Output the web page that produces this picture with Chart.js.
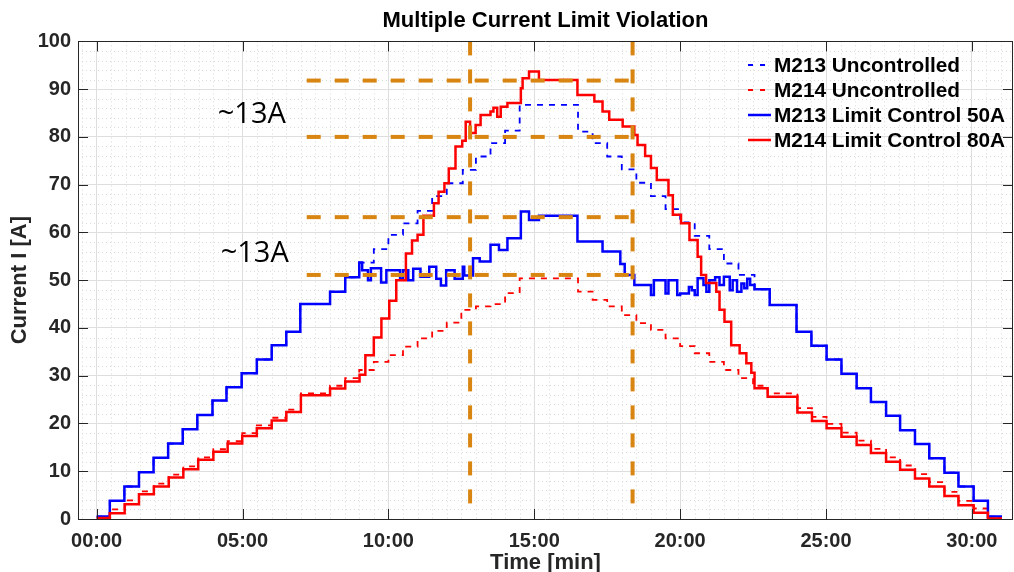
<!DOCTYPE html>
<html>
<head>
<meta charset="utf-8">
<script src="https://cdn.jsdelivr.net/npm/chart.js@4.4.0/dist/chart.umd.min.js"></script>
<style>
  html, body { margin: 0; padding: 0; background: #fff; }
</style>
</head>
<body>
<canvas id="chart" width="1014" height="572"></canvas>
<script>
// time in minutes, current in A
const m213UncT = [0, 0.45, 0.95, 1.45, 1.95, 2.45, 2.95, 3.45, 3.97, 4.45,
  4.97, 5.49, 6.0, 6.5, 6.98, 8.0, 8.52, 9.0, 9.5, 10.0,
  10.5, 11.0, 11.5, 12.0, 12.55, 13.0, 13.5, 14.0, 14.5, 16.5,
  17.0, 17.5, 18.0, 18.5, 19.0, 19.5, 20.0, 20.5, 21.0, 21.5,
  22.0, 22.55, 23.07, 23.99, 24.5, 25.02, 25.53, 26.05, 26.54, 27.06,
  27.54, 28.05, 28.54, 29.06, 29.54, 30.06, 30.55, 31.03];
const m213UncV = [0.5, 3.8, 6.8, 9.8, 12.8, 15.8, 18.8, 21.8, 24.8, 27.6,
  30.5, 33.4, 36.4, 39.2, 45.0, 47.6, 50.6, 53.7, 56.5, 59.5,
  61.9, 64.5, 67.6, 70.3, 73.1, 75.9, 78.7, 81.3, 86.7, 81.1,
  78.7, 75.9, 73.2, 70.4, 67.6, 64.9, 62.1, 59.3, 56.5, 53.5,
  51.1, 48.1, 44.8, 39.2, 36.3, 33.4, 30.4, 27.4, 24.5, 21.6,
  18.6, 15.7, 12.7, 9.7, 6.8, 3.8, 0.5, 0.5];

const m214UncT = [0, 0.45, 0.96, 1.45, 1.96, 2.47, 2.97, 3.48, 4.0, 4.49,
  4.99, 5.49, 6.0, 6.5, 7.0, 8.0, 8.52, 9.0, 9.5, 10.0,
  10.5, 11.0, 11.5, 12.0, 12.5, 13.0, 13.5, 14.0, 14.5, 16.5,
  17.0, 17.5, 18.0, 18.5, 19.0, 19.5, 20.0, 20.5, 21.0, 21.5,
  22.0, 22.5, 23.0, 24.02, 24.52, 25.02, 25.53, 26.05, 26.54, 27.06,
  27.54, 28.05, 28.54, 29.06, 29.54, 30.06, 30.55, 31.03];
const m214UncV = [0.2, 2.0, 3.9, 5.8, 7.4, 9.3, 11.0, 12.9, 14.6, 16.3,
  18.0, 19.6, 21.2, 22.9, 26.3, 27.9, 29.5, 31.2, 32.9, 34.3,
  36.1, 37.8, 39.4, 41.1, 43.8, 44.5, 45.0, 47.3, 50.4, 47.6,
  45.9, 44.5, 42.7, 41.0, 39.6, 37.8, 36.2, 34.7, 32.9, 31.2,
  29.5, 27.9, 26.3, 23.2, 21.4, 19.9, 18.1, 16.4, 14.7, 12.9,
  11.2, 9.4, 7.7, 5.7, 3.8, 2.2, 0.3, 0.3];

const m213LimT = [0, 0.45, 0.95, 1.45, 1.95, 2.45, 2.95, 3.45, 3.97, 4.45,
  4.97, 5.49, 6.0, 6.5, 6.98, 8.0, 8.52, 9.0, 9.1, 9.3,
  9.4, 9.75, 9.93, 10.4, 10.5, 10.68, 10.85, 11.1, 11.4, 11.64,
  11.8, 11.98, 12.27, 12.55, 12.6, 12.9, 13.13, 13.5, 13.79, 14.08,
  14.54, 14.82, 15.16, 16.48, 17.34, 17.95, 18.1, 18.43, 19.0, 19.1,
  19.5, 19.6, 19.9, 20.0, 20.3, 20.4, 20.5, 20.6, 20.8, 20.9,
  21.0, 21.2, 21.35, 21.5, 21.7, 21.8, 21.95, 22.1, 22.2, 22.3,
  22.4, 22.55, 23.07, 23.99, 24.5, 25.02, 25.53, 26.05, 26.54, 27.06,
  27.54, 28.05, 28.54, 29.06, 29.54, 30.06, 30.55, 31.03];
const m213LimV = [0.5, 3.8, 6.8, 9.8, 12.8, 15.8, 18.8, 21.8, 24.8, 27.6,
  30.5, 33.4, 36.4, 39.2, 45.0, 47.6, 50.6, 53.7, 52.1, 50.0,
  52.5, 49.5, 52.1, 50.3, 52.1, 50.0, 52.4, 50.7, 52.8, 50.3,
  48.9, 52.1, 50.3, 52.8, 51.0, 54.6, 53.9, 57.4, 56.3, 58.8,
  64.4, 62.6, 63.5, 58.1, 56.0, 53.4, 51.1, 49.0, 46.9, 50.0,
  47.2, 50.0, 46.9, 47.2, 48.6, 47.9, 46.9, 50.4, 49.0, 47.6,
  50.0, 50.6, 49.0, 50.7, 47.9, 50.0, 47.6, 49.3, 48.3, 50.3,
  49.0, 48.1, 44.8, 39.2, 36.3, 33.4, 30.4, 27.4, 24.5, 21.6,
  18.6, 15.7, 12.7, 9.7, 6.8, 3.8, 0.5, 0.5];

const m214LimT = [0, 0.45, 0.96, 1.45, 1.96, 2.47, 2.97, 3.48, 4.0, 4.49,
  4.99, 5.49, 6.0, 6.5, 7.0, 8.0, 8.52, 9.01, 9.21, 9.5,
  9.76, 10.03, 10.27, 10.6, 10.81, 11.0, 11.2, 11.56, 11.72, 11.92,
  12.07, 12.3, 12.53, 12.65, 12.8, 12.99, 13.16, 13.5, 13.6, 13.73,
  13.85, 14.08, 14.54, 14.6, 14.82, 15.16, 16.48, 17.06, 17.34, 17.57,
  18.03, 18.43, 18.54, 18.8, 19.0, 19.2, 19.6, 19.75, 20.03, 20.32,
  20.6, 20.72, 20.89, 21.24, 21.35, 21.52, 21.75, 22.04, 22.27, 22.44,
  22.55, 23.0, 24.02, 24.52, 25.02, 25.53, 26.05, 26.54, 27.06, 27.54,
  28.05, 28.54, 29.06, 29.54, 30.06, 30.55, 31.03];
const m214LimV = [0.2, 1.2, 3.1, 5.2, 6.8, 8.7, 10.4, 12.4, 14.1, 15.8,
  17.4, 19.0, 20.6, 22.4, 25.9, 27.3, 28.8, 30.2, 34.3, 38.0,
  42.0, 45.7, 50.0, 55.6, 58.3, 59.5, 63.5, 66.1, 68.5, 70.3,
  73.4, 78.0, 79.2, 83.2, 80.8, 82.5, 84.6, 85.3, 86.1, 84.2,
  86.3, 87.1, 90.2, 92.3, 93.7, 91.9, 88.8, 87.4, 85.3, 83.6,
  82.2, 80.4, 78.3, 76.0, 73.5, 71.0, 67.8, 63.7, 61.9, 58.4,
  54.9, 51.1, 49.4, 47.6, 43.8, 41.3, 36.4, 34.7, 32.6, 30.6,
  27.4, 25.6, 22.3, 20.5, 19.0, 17.2, 15.5, 13.8, 12.0, 10.3,
  8.5, 6.8, 4.8, 2.9, 1.3, 0.1, 0.1];

// orange guide lines
const guideLevels = [91.8, 80.0, 63.2, 51.1];
const guideFrom = 7.2, guideTo = 18.4;
const markTimes = [12.8, 18.37];
const markLow = 1.5, markHigh = 100;

const seriesNames = ["M213 Uncontrolled", "M214 Uncontrolled", "M213 Limit Control 50A", "M214 Limit Control 80A"];
const BLUE = "#0000ff", RED = "#ff0000", ORANGE = "#d98512", INK = "#262626";
const FONT = "'Liberation Sans', Arial, sans-serif";

function pts(t, v) {
  return t.map((x, i) => ({ x: x, y: v[i] }));
}

function series(label, t, v, color, dashed, ord) {
  return {
    label: label, data: pts(t, v), borderColor: color, backgroundColor: color,
    borderWidth: dashed ? 1.8 : 2.5, borderDash: dashed ? [6, 6] : [],
    stepped: "before", pointRadius: 0, fill: false, order: ord
  };
}

const datasets = [
  series(seriesNames[0], m213UncT, m213UncV, BLUE, true, 4),
  series(seriesNames[1], m214UncT, m214UncV, RED, true, 3),
  series(seriesNames[2], m213LimT, m213LimV, BLUE, false, 2),
  series(seriesNames[3], m214LimT, m214LimV, RED, false, 1)
];

guideLevels.forEach(lv => {
  datasets.push({
    label: "", data: [{ x: guideFrom, y: lv }, { x: guideTo, y: lv }],
    borderColor: ORANGE, borderWidth: 4, borderDash: [14, 14], pointRadius: 0, order: 0
  });
});
markTimes.forEach(t => {
  datasets.push({
    label: "", data: [{ x: t, y: markHigh }, { x: t, y: markLow }],
    borderColor: ORANGE, borderWidth: 4, borderDash: [14, 14], pointRadius: 0, order: 0
  });
});

// minor grid, box, inward ticks, legend and the ~13A notes
const decor = {
  id: "decor",
  beforeDatasetsDraw(chart) {
    const { ctx, chartArea: a, scales: { x, y } } = chart;
    ctx.save();
    ctx.strokeStyle = "#dadada";
    ctx.lineWidth = 1;
    ctx.setLineDash([1, 3]);
    for (let v = -0.5; v < 31.5; v += 0.5) {
      if (Math.abs(v % 5) < 1e-6) continue;
      const px = Math.round(x.getPixelForValue(v)) + 0.5;
      ctx.beginPath(); ctx.moveTo(px, a.top); ctx.lineTo(px, a.bottom); ctx.stroke();
    }
    for (let v = 2; v < 100; v += 2) {
      if (v % 10 === 0) continue;
      const py = Math.round(y.getPixelForValue(v)) + 0.5;
      ctx.beginPath(); ctx.moveTo(a.left, py); ctx.lineTo(a.right, py); ctx.stroke();
    }
    ctx.restore();
  },
  afterDatasetsDraw(chart) {
    const { ctx, chartArea: a, scales: { x, y } } = chart;
    ctx.save();
    ctx.strokeStyle = INK;
    ctx.lineWidth = 1;
    ctx.beginPath();
    ctx.rect(Math.round(a.left) + 0.5, Math.round(a.top) + 0.5, Math.round(a.right - a.left) - 1, Math.round(a.bottom - a.top));
    ctx.stroke();
    ctx.beginPath();
    for (let v = 0; v <= 30; v += 5) {
      const px = Math.round(x.getPixelForValue(v)) + 0.5;
      ctx.moveTo(px, a.bottom); ctx.lineTo(px, a.bottom - 10);
      ctx.moveTo(px, a.top); ctx.lineTo(px, a.top + 10);
    }
    for (let v = 0; v <= 100; v += 10) {
      const py = Math.round(y.getPixelForValue(v)) + 0.5;
      ctx.moveTo(a.left, py); ctx.lineTo(a.left + 10, py);
      ctx.moveTo(a.right, py); ctx.lineTo(a.right - 10, py);
    }
    ctx.stroke();
    ctx.restore();
  },
  afterDraw(chart) {
    const { ctx, scales: { x, y } } = chart;
    ctx.save();
    // legend
    const rowY = [65, 90, 115, 140];
    chart.data.datasets.slice(0, 4).forEach((d, i) => {
      ctx.strokeStyle = d.borderColor;
      ctx.lineWidth = d.borderDash.length ? 1.8 : 2.5;
      ctx.setLineDash(d.borderDash.length ? [5, 7] : []);
      ctx.beginPath(); ctx.moveTo(748, rowY[i]); ctx.lineTo(771, rowY[i]); ctx.stroke();
      ctx.setLineDash([]);
      ctx.fillStyle = "#000";
      ctx.font = "bold 20.8px " + FONT;
      ctx.textBaseline = "middle";
      ctx.textAlign = "left";
      ctx.fillText(d.label, 774, rowY[i] + 1);
    });
    // notes
    ctx.fillStyle = "#000";
    ctx.font = "29px 'Open Sans', sans-serif";
    ctx.textBaseline = "alphabetic";
    ctx.fillText("~13A", x.getPixelForValue(4.15), y.getPixelForValue(83.0));
    ctx.fillText("~13A", x.getPixelForValue(4.25), y.getPixelForValue(53.8));
    ctx.restore();
  }
};

const tickFont = { family: FONT, size: 20, weight: "bold" };

new Chart(document.getElementById("chart"), {
  type: "line",
  data: { datasets: datasets },
  plugins: [decor],
  options: {
    responsive: false,
    animation: false,
    events: [],
    layout: { padding: { left: 0, right: 1, top: 0, bottom: 0 } },
    plugins: {
      legend: { display: false },
      tooltip: { enabled: false },
      title: {
        display: true, fullSize: false, text: "Multiple Current Limit Violation",
        color: "#000", font: { family: FONT, size: 22, weight: "bold", lineHeight: 1.2 },
        padding: { top: 8, bottom: 7 }
      }
    },
    scales: {
      x: {
        type: "linear", min: -0.64, max: 31.41,
        ticks: {
          stepSize: 5, includeBounds: false, autoSkip: false, maxRotation: 0,
          padding: 10, color: INK, font: tickFont,
          callback: v => (v < 10 ? "0" : "") + v + ":00"
        },
        grid: { color: "#dedede", drawTicks: false },
        border: { display: false },
        title: {
          display: true, text: "Time [min]", color: INK,
          font: { family: FONT, size: 22, weight: "bold", lineHeight: 1 }, padding: { top: 0, bottom: -2 }
        },
        afterFit: s => { s.height = 53; }
      },
      y: {
        min: 0, max: 100,
        ticks: { stepSize: 10, padding: 7, color: INK, font: tickFont },
        grid: { color: "#dedede", drawTicks: false },
        border: { display: false },
        title: {
          display: true, text: "Current I [A]", color: INK,
          font: { family: FONT, size: 22, weight: "bold", lineHeight: 1 }, padding: { top: 9, bottom: 0 }
        },
        afterFit: s => { s.width = 78; }
      }
    }
  }
});
</script>
</body>
</html>
